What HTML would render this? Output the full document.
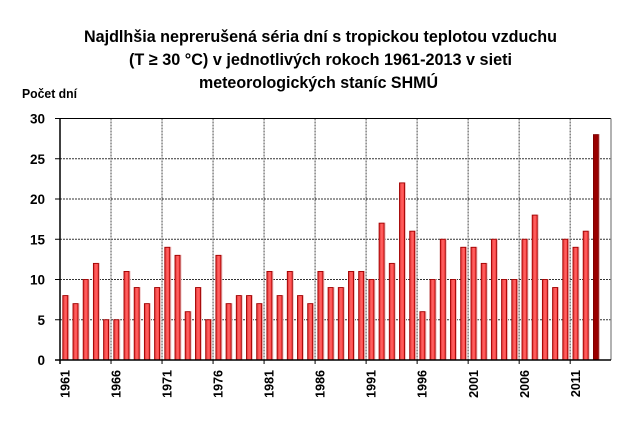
<!DOCTYPE html>
<html>
<head>
<meta charset="utf-8">
<style>
html,body{margin:0;padding:0;background:#fff;}
svg{display:block;}
text{font-family:"Liberation Sans",Arial,sans-serif;font-weight:bold;fill:#000;}
</style>
</head>
<body>
<svg width="633" height="444" viewBox="0 0 633 444" xmlns="http://www.w3.org/2000/svg">
<defs>
<linearGradient id="bg" x1="0" y1="0" x2="1" y2="0">
<stop offset="0" stop-color="#e02c2c"/>
<stop offset="0.5" stop-color="#ff6464"/>
<stop offset="1" stop-color="#ff3e3e"/>
</linearGradient>
<g id="bars">
<rect x="62.8" y="295.6" width="5" height="64.4"/><rect x="73.0" y="303.65" width="5" height="56.35"/><rect x="83.2" y="279.5" width="5" height="80.5"/><rect x="93.4" y="263.4" width="5" height="96.6"/><rect x="103.6" y="319.75" width="5" height="40.25"/>
<rect x="113.8" y="319.75" width="5" height="40.25"/><rect x="124.0" y="271.45" width="5" height="88.55"/><rect x="134.2" y="287.55" width="5" height="72.45"/><rect x="144.4" y="303.65" width="5" height="56.35"/><rect x="154.6" y="287.55" width="5" height="72.45"/>
<rect x="164.8" y="247.3" width="5" height="112.7"/><rect x="175.0" y="255.35" width="5" height="104.65"/><rect x="185.2" y="311.7" width="5" height="48.3"/><rect x="195.5" y="287.55" width="5" height="72.45"/><rect x="205.7" y="319.75" width="5" height="40.25"/>
<rect x="215.9" y="255.35" width="5" height="104.65"/><rect x="226.1" y="303.65" width="5" height="56.35"/><rect x="236.3" y="295.6" width="5" height="64.4"/><rect x="246.5" y="295.6" width="5" height="64.4"/><rect x="256.7" y="303.65" width="5" height="56.35"/>
<rect x="266.9" y="271.45" width="5" height="88.55"/><rect x="277.1" y="295.6" width="5" height="64.4"/><rect x="287.3" y="271.45" width="5" height="88.55"/><rect x="297.5" y="295.6" width="5" height="64.4"/><rect x="307.7" y="303.65" width="5" height="56.35"/>
<rect x="317.9" y="271.45" width="5" height="88.55"/><rect x="328.1" y="287.55" width="5" height="72.45"/><rect x="338.3" y="287.55" width="5" height="72.45"/><rect x="348.5" y="271.45" width="5" height="88.55"/><rect x="358.7" y="271.45" width="5" height="88.55"/>
<rect x="368.9" y="279.5" width="5" height="80.5"/><rect x="379.1" y="223.15" width="5" height="136.85"/><rect x="389.3" y="263.4" width="5" height="96.6"/><rect x="399.5" y="182.9" width="5" height="177.1"/><rect x="409.7" y="231.2" width="5" height="128.8"/>
<rect x="419.9" y="311.7" width="5" height="48.3"/><rect x="430.1" y="279.5" width="5" height="80.5"/><rect x="440.3" y="239.25" width="5" height="120.75"/><rect x="450.5" y="279.5" width="5" height="80.5"/><rect x="460.7" y="247.3" width="5" height="112.7"/>
<rect x="471.0" y="247.3" width="5" height="112.7"/><rect x="481.2" y="263.4" width="5" height="96.6"/><rect x="491.4" y="239.25" width="5" height="120.75"/><rect x="501.6" y="279.5" width="5" height="80.5"/><rect x="511.8" y="279.5" width="5" height="80.5"/>
<rect x="522.0" y="239.25" width="5" height="120.75"/><rect x="532.2" y="215.1" width="5" height="144.9"/><rect x="542.4" y="279.5" width="5" height="80.5"/><rect x="552.6" y="287.55" width="5" height="72.45"/><rect x="562.8" y="239.25" width="5" height="120.75"/>
<rect x="573.0" y="247.3" width="5" height="112.7"/><rect x="583.2" y="231.2" width="5" height="128.8"/>
</g>
</defs>

<text x="84" y="42" font-size="17" textLength="473" lengthAdjust="spacingAndGlyphs">Najdlhšia neprerušená séria dní s tropickou teplotou vzduchu</text>
<text x="129" y="65" font-size="17" textLength="383" lengthAdjust="spacingAndGlyphs">(T ≥ 30 °C) v jednotlivých rokoch 1961-2013 v sieti</text>
<text x="199" y="88" font-size="17" textLength="239" lengthAdjust="spacingAndGlyphs">meteorologických staníc SHMÚ</text>

<text x="22" y="98" font-size="13" textLength="55" lengthAdjust="spacingAndGlyphs">Počet dní</text>

<g stroke="#333" stroke-width="1" stroke-dasharray="2,1" fill="none">
<line x1="60" y1="158.75" x2="611" y2="158.75"/><line x1="60" y1="199" x2="611" y2="199"/><line x1="60" y1="239.25" x2="611" y2="239.25"/><line x1="60" y1="279.5" x2="611" y2="279.5"/><line x1="60" y1="319.75" x2="611" y2="319.75"/>
</g>
<g stroke="#666" stroke-width="1.2" stroke-dasharray="2,1" fill="none">
<line x1="111.02" y1="118.5" x2="111.02" y2="360"/><line x1="162.04" y1="118.5" x2="162.04" y2="360"/><line x1="213.06" y1="118.5" x2="213.06" y2="360"/><line x1="264.07" y1="118.5" x2="264.07" y2="360"/><line x1="315.09" y1="118.5" x2="315.09" y2="360"/>
<line x1="366.11" y1="118.5" x2="366.11" y2="360"/><line x1="417.13" y1="118.5" x2="417.13" y2="360"/><line x1="468.15" y1="118.5" x2="468.15" y2="360"/><line x1="519.17" y1="118.5" x2="519.17" y2="360"/><line x1="570.19" y1="118.5" x2="570.19" y2="360"/>
</g>

<line x1="60" y1="118.5" x2="611" y2="118.5" stroke="#000" stroke-width="1"/>
<line x1="611" y1="118.5" x2="611" y2="360" stroke="#888" stroke-width="1.3"/>

<use href="#bars" fill="#f0c2c2" transform="translate(1.5,-0.5)"/>
<rect x="594.9" y="134.1" width="5" height="225.9" fill="#e8b8b8"/>
<use href="#bars" fill="url(#bg)" stroke="#a00000" stroke-width="0.9"/>
<rect x="593.4" y="134.6" width="5" height="225.4" fill="#990000" stroke="#7a0000" stroke-width="0.8"/>

<line x1="60" y1="118" x2="60" y2="364" stroke="#000" stroke-width="1.5"/>
<line x1="55" y1="360" x2="611" y2="360" stroke="#000" stroke-width="1.5"/>
<g stroke="#000" stroke-width="1">
<line x1="55" y1="118.5" x2="60" y2="118.5"/><line x1="55" y1="158.75" x2="60" y2="158.75"/><line x1="55" y1="199" x2="60" y2="199"/><line x1="55" y1="239.25" x2="60" y2="239.25"/><line x1="55" y1="279.5" x2="60" y2="279.5"/><line x1="55" y1="319.75" x2="60" y2="319.75"/>
<line x1="111.02" y1="360" x2="111.02" y2="364"/><line x1="162.04" y1="360" x2="162.04" y2="364"/><line x1="213.06" y1="360" x2="213.06" y2="364"/><line x1="264.07" y1="360" x2="264.07" y2="364"/><line x1="315.09" y1="360" x2="315.09" y2="364"/>
<line x1="366.11" y1="360" x2="366.11" y2="364"/><line x1="417.13" y1="360" x2="417.13" y2="364"/><line x1="468.15" y1="360" x2="468.15" y2="364"/><line x1="519.17" y1="360" x2="519.17" y2="364"/><line x1="570.19" y1="360" x2="570.19" y2="364"/>
</g>

<g font-size="13.5" text-anchor="end">
<text x="45" y="123.5">30</text><text x="45" y="163.75">25</text><text x="45" y="204">20</text><text x="45" y="244.25">15</text><text x="45" y="284.5">10</text><text x="45" y="324.75">5</text><text x="45" y="365">0</text>
</g>

<g font-size="12.5" text-anchor="end">
<text transform="translate(69.6,370) rotate(-90)">1961</text>
<text transform="translate(120.6,370) rotate(-90)">1966</text>
<text transform="translate(171.6,370) rotate(-90)">1971</text>
<text transform="translate(222.7,370) rotate(-90)">1976</text>
<text transform="translate(273.7,370) rotate(-90)">1981</text>
<text transform="translate(324.7,370) rotate(-90)">1986</text>
<text transform="translate(375.7,370) rotate(-90)">1991</text>
<text transform="translate(426.7,370) rotate(-90)">1996</text>
<text transform="translate(477.8,370) rotate(-90)">2001</text>
<text transform="translate(528.8,370) rotate(-90)">2006</text>
<text transform="translate(579.8,370) rotate(-90)">2011</text>
</g>
</svg>
</body>
</html>
